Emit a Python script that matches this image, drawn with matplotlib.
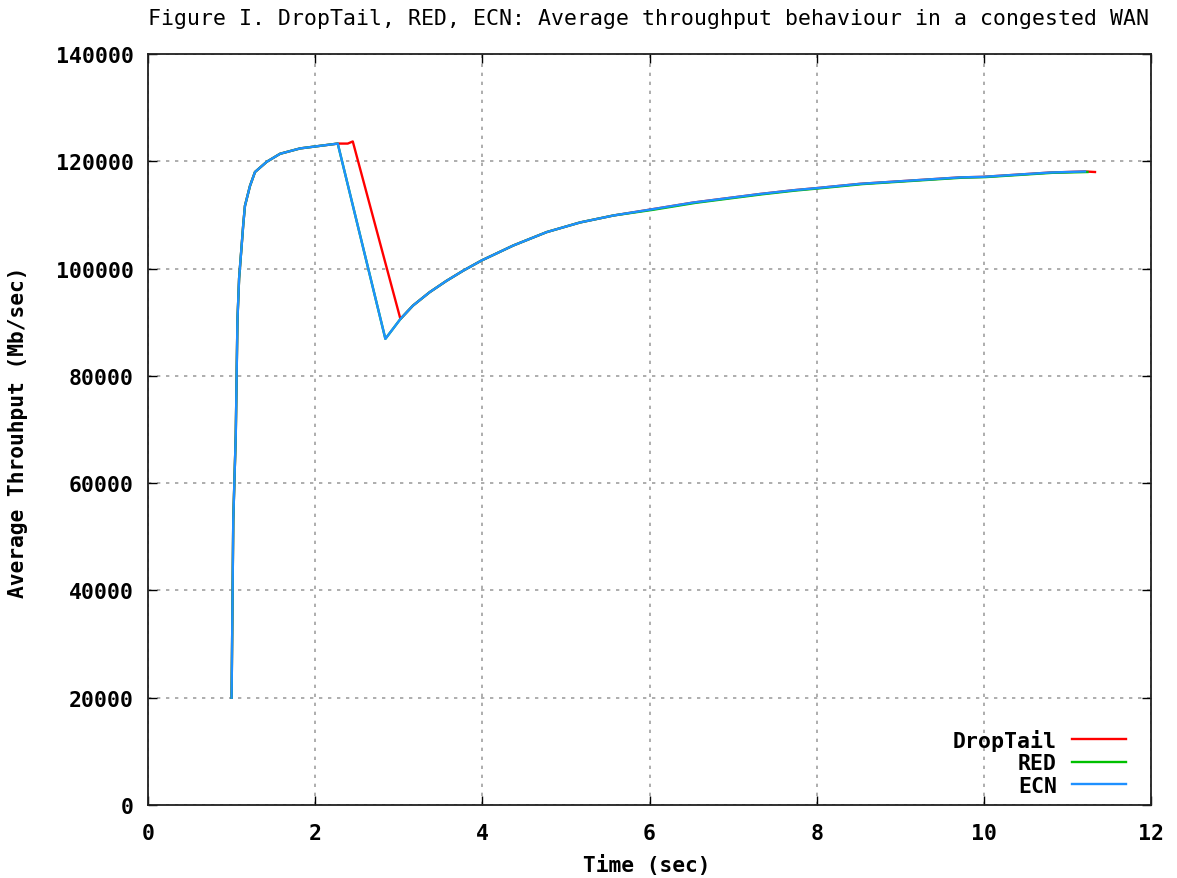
import matplotlib
matplotlib.use("Agg")
import matplotlib.pyplot as plt

# average throughput samples (time in s, throughput in Mb/s)
ecn_t = [1.00, 1.02, 1.05, 1.07, 1.09, 1.12, 1.14, 1.16, 1.22, 1.28, 1.42, 1.58,
         1.82, 2.02, 2.27, 2.84, 3.02, 3.17, 3.37, 3.57, 3.77, 3.99, 4.37, 4.77,
         5.17, 5.57, 6.01, 6.52, 6.92, 7.32, 7.72, 8.00, 8.52, 9.12, 9.72, 9.99,
         10.79, 11.21]
ecn_v = [20000, 53000, 69000, 90300, 98200, 104200, 108300, 111700, 115400, 118000,
         119900, 121400, 122400, 122800, 123300, 86900, 90600, 93100, 95600, 97700,
         99600, 101500, 104300, 106800, 108600, 109900, 111000, 112300, 113100,
         113900, 114600, 115000, 115800, 116400, 117000, 117100, 117900, 118100]

red_t = [1.00, 1.02, 1.05, 1.07, 1.09, 1.12, 1.14, 1.16, 1.22, 1.28, 1.42, 1.58,
         1.82, 2.02, 2.27, 2.84, 3.02, 3.17, 3.37, 3.57, 3.77, 3.99, 4.37, 4.77,
         5.17, 5.57, 6.04, 6.55, 6.95, 7.35, 7.75, 8.03, 8.55, 9.15, 9.75, 10.02,
         10.82, 11.24]
red_v = [20000, 53000, 69000, 90300, 98200, 104200, 108300, 111700, 115400, 118000,
         119900, 121400, 122400, 122800, 123300, 86900, 90600, 93100, 95600, 97700,
         99600, 101500, 104300, 106800, 108600, 109900, 110950, 112250, 113050,
         113850, 114550, 114950, 115750, 116350, 116950, 117050, 117850, 118000]

droptail_t = [1.00, 1.02, 1.05, 1.07, 1.09, 1.12, 1.14, 1.16, 1.22, 1.28, 1.42,
              1.58, 1.82, 2.02, 2.27, 2.39, 2.45, 3.02, 3.17, 3.37, 3.57, 3.77,
              3.99, 4.37, 4.77, 5.17, 5.57, 6.01, 6.52, 6.92, 7.32, 7.72, 8.00,
              8.52, 9.12, 9.72, 9.99, 10.79, 11.21, 11.33]
droptail_v = [20000, 53000, 69000, 90300, 98200, 104200, 108300, 111700, 115400,
              118000, 119900, 121400, 122400, 122800, 123300, 123300, 123700,
              90600, 93100, 95600, 97700, 99600, 101500, 104300, 106800, 108600,
              109900, 111000, 112300, 113100, 113900, 114600, 115000, 115800,
              116400, 117000, 117100, 117900, 118100, 118000]

x_ticks = [0, 2, 4, 6, 8, 10, 12]
y_ticks = [0, 20000, 40000, 60000, 80000, 100000, 120000, 140000]

mono = "DejaVu Sans Mono"
W, H = 1177, 879

fig = plt.figure(figsize=(W / 100, H / 100), dpi=100)
ax = fig.add_axes([148 / W, 1 - 806 / H, 1003 / W, 751 / H])

ax.plot(droptail_t, droptail_v, color="#ff0000", lw=1.7, label="DropTail")
ax.plot(red_t, red_v, color="#00c000", lw=1.7, label="RED")
ax.plot(ecn_t, ecn_v, color="#1e90ff", lw=1.7, label="ECN")

ax.set_xlim(0, 12)
ax.set_ylim(0, 140000)
ax.set_xticks(x_ticks)
ax.set_yticks(y_ticks)
ax.set_xticklabels([str(t) for t in x_ticks], fontfamily=mono, fontweight="bold", fontsize=15.5)
ax.set_yticklabels([str(t) for t in y_ticks], fontfamily=mono, fontweight="bold", fontsize=15.5)
ax.tick_params(direction="in", length=6.5, width=1.0, top=True, right=True, colors="black")
ax.tick_params(axis="x", pad=13)
ax.tick_params(axis="y", pad=10)

ax.grid(True, color="#a0a0a0", linestyle=(0, (2, 3.4)), linewidth=1.2)
for s in ax.spines.values():
    s.set_linewidth(1.3)
    s.set_color("#202020")

leg = ax.legend(loc="lower right", bbox_to_anchor=(1126 / W, 1 - 797 / H),
                bbox_transform=fig.transFigure, frameon=False, markerfirst=False,
                prop={"family": mono, "weight": "bold", "size": 15.5},
                handlelength=2.5, labelspacing=0.12, handletextpad=0.7,
                borderaxespad=0.0, borderpad=0.0)

fig.text(648 / W, 1 - 19 / H,
         "Figure I. DropTail, RED, ECN: Average throughput behaviour in a congested WAN",
         ha="center", va="center", fontfamily=mono, fontsize=15.5)
fig.text(647 / W, 1 - 866 / H, "Time (sec)", ha="center", va="center",
         fontfamily=mono, fontweight="bold", fontsize=15.3)
fig.text(18 / W, 1 - 432 / H, "Average Throuhput (Mb/sec)", ha="center", va="center",
         rotation=90, fontfamily=mono, fontweight="bold", fontsize=15.3)

fig.savefig("out.png", dpi=100)
